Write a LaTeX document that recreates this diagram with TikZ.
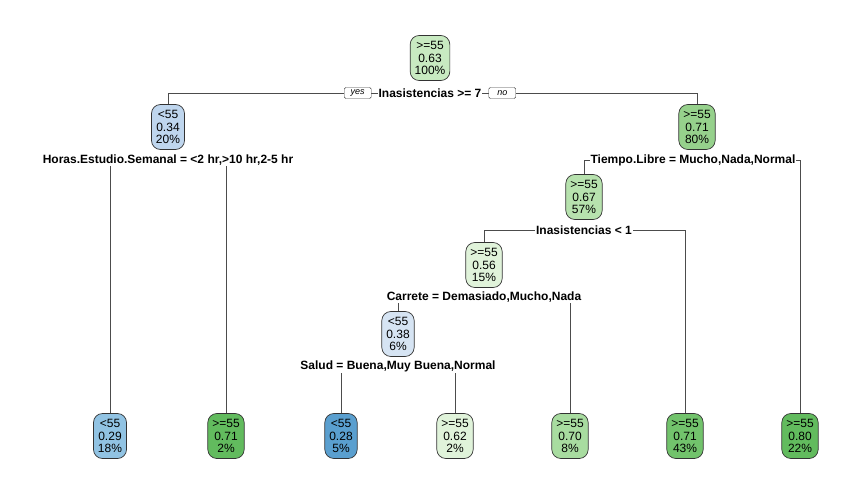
\documentclass[tikz,border=0pt]{standalone}
\usepackage{fontspec}
\setmainfont{Liberation Sans}
\usetikzlibrary{positioning,backgrounds}

\definecolor{gA}{HTML}{C8EAC1}
\definecolor{gB}{HTML}{96D18C}
\definecolor{gC}{HTML}{B7E2AE}
\definecolor{gD}{HTML}{E0F3DA}
\definecolor{gE}{HTML}{62BB5E}
\definecolor{gF}{HTML}{A8DCA0}
\definecolor{gG}{HTML}{72C36C}
\definecolor{bA}{HTML}{BFD6EE}
\definecolor{bB}{HTML}{D6E4F3}
\definecolor{bC}{HTML}{91C3E3}
\definecolor{bD}{HTML}{5A9FCF}

\begin{document}
\begin{tikzpicture}[x=1pt,y=-1pt,
  box/.style={draw=black!80,line width=0.7pt,rounded corners=9pt,align=center,
    font=\fontsize{12}{12.5}\selectfont,inner xsep=4.5pt,inner ysep=2pt,minimum height=45pt},
  split/.style={fill=white,inner sep=1pt,font=\fontsize{12}{12.5}\selectfont\bfseries},
  tag/.style={draw=black!75,fill=white,rounded corners=1.5pt,inner xsep=3pt,inner ysep=1pt,
    minimum width=27pt,minimum height=11pt,font=\fontsize{9}{9}\selectfont\itshape},
  branch/.style={draw=black!70,line width=0.6pt}]
\useasboundingbox (0,0) rectangle (867,493);

% internal nodes
\node[box,fill=gA] (n1) at (430,58) {>=55\\0.63\\100\%};
\node[box,fill=bA] (n2) at (168,127) {<55\\0.34\\20\%};
\node[box,fill=gB] (n3) at (697,127) {>=55\\0.71\\80\%};
\node[box,fill=gC] (n6) at (584,197) {>=55\\0.67\\57\%};
\node[box,fill=gD] (n12) at (484,265) {>=55\\0.56\\15\%};
\node[box,fill=bB] (n24) at (398,334) {<55\\0.38\\6\%};

% leaves
\node[box,fill=bC] (n4) at (110,436) {<55\\0.29\\18\%};
\node[box,fill=gE] (n5) at (226,436) {>=55\\0.71\\2\%};
\node[box,fill=bD] (n48) at (341,436) {<55\\0.28\\5\%};
\node[box,fill=gD] (n49) at (455,436) {>=55\\0.62\\2\%};
\node[box,fill=gF] (n25) at (570,436) {>=55\\0.70\\8\%};
\node[box,fill=gG] (n13) at (685,436) {>=55\\0.71\\43\%};
\node[box,fill=gE] (n7) at (800,436) {>=55\\0.80\\22\%};

% split labels
\node[split] (s1) at (430,93) {Inasistencias >= 7};
\node[tag,left=6pt of s1] (yes) {yes};
\node[tag,right=6pt of s1] (no) {no};
\node[split] (s2) at (168,160) {Horas.Estudio.Semanal = <2 hr,>10 hr,2-5 hr};
\node[split] (s3) at (693,160) {Tiempo.Libre = Mucho,Nada,Normal};
\node[split] (s6) at (584,230) {Inasistencias < 1};
\node[split] (s12) at (484,297) {Carrete = Demasiado,Mucho,Nada};
\node[split] (s24) at (398,366) {Salud = Buena,Muy Buena,Normal};

\begin{scope}[on background layer]
  \draw[branch] (s1.center) -| (n2.north);
  \draw[branch] (s1.center) -| (n3.north);
  \draw[branch] (s2.center) -| (n4.north);
  \draw[branch] (s2.center) -| (n5.north);
  \draw[branch] (s3.center) -| (n6.north);
  \draw[branch] (s3.center) -| (n7.north);
  \draw[branch] (s6.center) -| (n12.north);
  \draw[branch] (s6.center) -| (n13.north);
  \draw[branch] (s12.center) -| (n24.north);
  \draw[branch] (s12.center) -| (n25.north);
  \draw[branch] (s24.center) -| (n48.north);
  \draw[branch] (s24.center) -| (n49.north);
\end{scope}
\end{tikzpicture}
\end{document}
